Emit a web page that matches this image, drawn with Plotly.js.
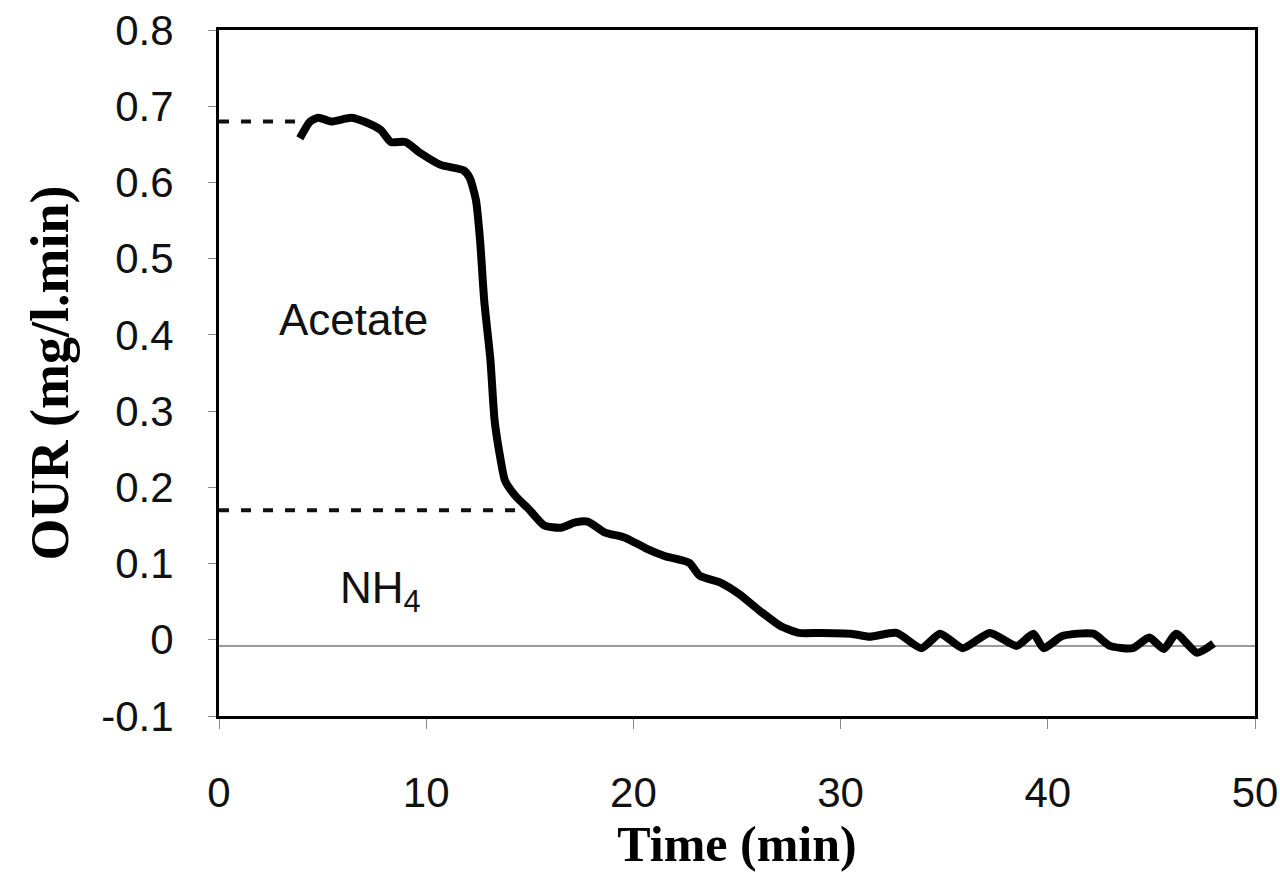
<!DOCTYPE html>
<html>
<head>
<meta charset="utf-8">
<script src="https://cdn.plot.ly/plotly-3.0.1.min.js"></script>
<style>html,body{margin:0;padding:0;background:#fff;}#chart{width:1280px;height:872px;}</style>
</head>
<body>
<div id="chart"></div>
<script>
// Time (min)
var timeMin = [3.9,4.4,4.8,5.4,6.0,6.4,7.0,7.8,8.3,9.0,9.7,10.7,11.8,12.1,12.4,12.6,12.8,13.1,13.3,13.6,13.8,14.3,15.0,15.7,16.5,17.2,17.8,18.6,19.6,20.6,21.5,22.7,23.2,24.2,25.1,26.1,27.1,28.0,29.0,30.5,31.4,32.7,33.9,34.8,35.9,37.2,38.5,39.3,39.8,40.7,42.2,43.0,44.1,44.9,45.6,46.2,47.2,48.0];
// OUR (mg/l.min)
var ourVal = [0.658,0.68,0.685,0.68,0.683,0.685,0.68,0.669,0.653,0.653,0.639,0.623,0.616,0.606,0.577,0.524,0.445,0.367,0.288,0.235,0.209,0.189,0.170,0.150,0.147,0.154,0.155,0.141,0.134,0.120,0.110,0.101,0.084,0.075,0.060,0.038,0.018,0.009,0.009,0.008,0.004,0.009,-0.011,0.008,-0.011,0.009,-0.008,0.008,-0.011,0.005,0.008,-0.008,-0.011,0.003,-0.012,0.008,-0.017,-0.005];
// dashed reference levels and their end times
var refLevels = [0.68, 0.17];
var refEnds = [3.9, 14.3];
var baseline = -0.008;
var xTicks = [0,10,20,30,40,50];
var yTicks = [-0.1,0,0.1,0.2,0.3,0.4,0.5,0.6,0.7,0.8];
var labels = ["Acetate", "NH<sub>4</sub>"];
var labelX = [6.5, 7.8];
var labelY = [0.42, 0.064];

var shapes = [{type:'line', xref:'paper', yref:'y', x0:0, x1:1, y0:baseline, y1:baseline, line:{color:'#9a9a9a', width:2}, layer:'below'}];
for (var i=0;i<refLevels.length;i++){
  shapes.push({type:'line', xref:'x', yref:'y', x0:0, x1:refEnds[i], y0:refLevels[i], y1:refLevels[i], line:{color:'#111', width:4, dash:'10px,12px'}});
}
var annotations = labels.map(function(t,i){
  return {x:labelX[i], y:labelY[i], xref:'x', yref:'y', text:t, showarrow:false, font:{family:'Liberation Sans, Arial, sans-serif', size:44, color:'#111'}};
});

var trace = {x:timeMin, y:ourVal, mode:'lines', line:{color:'#000', width:8, shape:'spline', smoothing:0.6}, hoverinfo:'skip'};

var layout = {
  width:1280, height:872,
  margin:{l:219, r:25, t:30, b:156},
  paper_bgcolor:'#fff', plot_bgcolor:'#fff',
  showlegend:false,
  xaxis:{range:[0,50], tickvals:xTicks, ticktext:xTicks.map(String), showgrid:false, zeroline:false,
    showline:true, mirror:true, linecolor:'#000', linewidth:3,
    ticks:'outside', ticklen:10, tickcolor:'#888', tickwidth:1, ticklabelstandoff:28,
    tickfont:{family:'Liberation Sans, Arial, sans-serif', size:42, color:'#111'},
    title:{text:'<b>Time (min)</b>', font:{family:'Liberation Serif, Times New Roman, serif', size:50, color:'#000'}, standoff:10}},
  yaxis:{range:[-0.1,0.8], tickvals:yTicks, ticktext:yTicks.map(function(v){return v===0?'0':v.toFixed(1);}), showgrid:false, zeroline:false,
    showline:true, mirror:true, linecolor:'#000', linewidth:3,
    ticks:'outside', ticklen:8, tickcolor:'#888', tickwidth:1, ticklabelstandoff:26,
    tickfont:{family:'Liberation Sans, Arial, sans-serif', size:42, color:'#111'},
    title:{text:'<b>OUR (mg/l.min)</b>', font:{family:'Liberation Serif, Times New Roman, serif', size:54, color:'#000'}, standoff:16}},
  shapes:shapes,
  annotations:annotations
};
Plotly.newPlot('chart', [trace], layout, {staticPlot:true});
</script>
</body>
</html>
